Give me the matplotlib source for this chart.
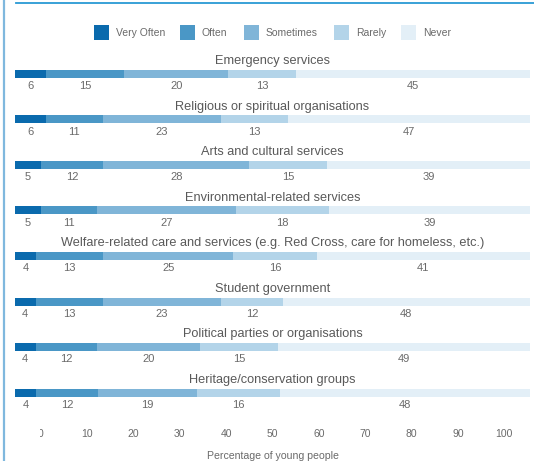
import matplotlib
matplotlib.use("Agg")
import matplotlib.pyplot as plt
from matplotlib.lines import Line2D
from matplotlib.patches import Rectangle
from matplotlib.transforms import Bbox, TransformedBbox

# Survey data: share of young people taking part in each kind of activity
categories = [
    "Emergency services",
    "Religious or spiritual organisations",
    "Arts and cultural services",
    "Environmental-related services",
    "Welfare-related care and services (e.g. Red Cross, care for homeless, etc.)",
    "Student government",
    "Political parties or organisations",
    "Heritage/conservation groups",
]
responses = ["Very Often", "Often", "Sometimes", "Rarely", "Never"]
very_often = [6, 6, 5, 5, 4, 4, 4, 4]
often = [15, 11, 12, 11, 13, 13, 12, 12]
sometimes = [20, 23, 28, 27, 25, 23, 20, 19]
rarely = [13, 13, 15, 18, 16, 12, 15, 16]
never = [45, 47, 39, 39, 41, 48, 49, 48]
axis_ticks = [0, 10, 20, 30, 40, 50, 60, 70, 80, 90, 100]

colors = ["#0a6aad", "#4a97c6", "#80b5d8", "#b3d4e9", "#e3eff7"]
title_color = "#595959"
label_color = "#6a6a6a"

plt.rcParams["font.family"] = ["Liberation Sans", "DejaVu Sans"]

W, H = 534, 461
fig = plt.figure(figsize=(W / 100, H / 100), dpi=100)


def fx(px):
    return px / W


def fy(py):
    return 1 - py / H


# frame accents
fig.add_artist(Line2D([fx(4), fx(4)], [0, 1], color="#7fb8de", lw=1.6))
fig.add_artist(Line2D([fx(16), 1], [fy(3), fy(3)], color="#2a9ad4", lw=1.3))

# legend
legend_x = [94, 180, 244, 334, 401]
sq = 15
for name, c, x in zip(responses, colors, legend_x):
    fig.add_artist(Rectangle((fx(x), fy(33 + sq / 2)), sq / W, sq / H,
                             transform=fig.transFigure, color=c, lw=0))
    fig.text(fx(x + sq + 7), fy(33.5), name, fontsize=7.5, color=label_color,
             ha="left", va="center")

# one stacked bar per category
series = [very_often, often, sometimes, rarely, never]
bar_left, bar_right = 15, 530
bar_h = 8
first_top = 70
step = 45.5

for i, cat in enumerate(categories):
    top = first_top + i * step
    ax = fig.add_axes([fx(bar_left), fy(top + bar_h),
                       (bar_right - bar_left) / W, bar_h / H])
    vals = [s[i] for s in series]
    left = 0
    for v, c in zip(vals, colors):
        ax.barh(0, v, left=left, height=1, color=c, linewidth=0)
        ax.text(left + v / 2, -1.55, str(v), fontsize=8, color=label_color,
                ha="center", va="center")
        left += v
    ax.set_xlim(0, left)
    ax.set_ylim(-0.5, 0.5)
    ax.axis("off")
    ax.text(left / 2, 1.6, cat, fontsize=9.2, color=title_color,
            ha="center", va="center")

# percentage scale along the bottom
ax0_px, ax100_px = 40.9, 504.2
sx = fig.add_axes([fx(ax0_px), fy(426), (ax100_px - ax0_px) / W, 1 / H])
sx.set_xlim(0, 100)
sx.set_xticks(axis_ticks)
sx.set_xticklabels([str(t) for t in axis_ticks])
sx.set_yticks([])
for sp in sx.spines.values():
    sp.set_visible(False)
sx.patch.set_alpha(0)
sx.tick_params(axis="x", length=0, pad=2, labelsize=7.5, labelcolor=label_color)
sx.set_xlabel("Percentage of young people", fontsize=7.6, color=label_color,
              labelpad=9)

# the leftmost tick label is cut at the frame edge
first = sx.xaxis.get_major_ticks()[0].label1
clip = TransformedBbox(Bbox([[fx(ax0_px - 1), 0], [fx(ax0_px + 30), 1]]),
                       fig.transFigure)
first.set_clip_box(clip)
first.set_clip_on(True)

fig.savefig("out.png", dpi=100)
